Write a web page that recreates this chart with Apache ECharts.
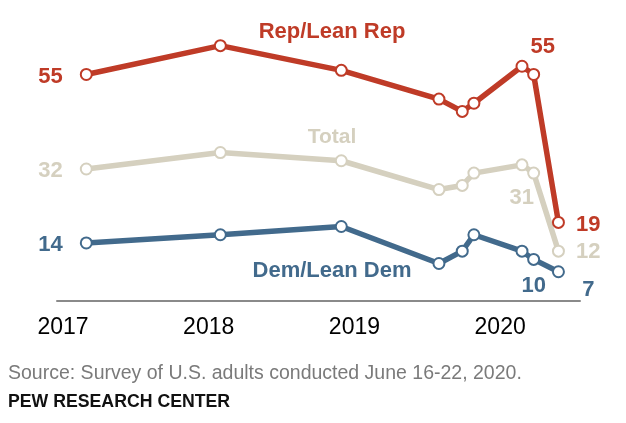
<!DOCTYPE html>
<html><head><meta charset="utf-8">
<script src="https://cdn.jsdelivr.net/npm/echarts@6/dist/echarts.min.js"></script>
<style>html,body{margin:0;padding:0;background:#fff}#c{width:626px;height:423px}</style>
</head><body><div id="c"></div>
<script>
// Survey dates as fractional years
const surveyDates = [2017.16, 2018.08, 2018.91, 2019.58, 2019.74, 2019.82, 2020.15, 2020.23, 2020.40];
const yearTicks = [2017, 2018, 2019, 2020];
const repValues = [55, 62, 56, 49, 46, 48, 57, 55, 19];
const totalValues = [32, 36, 34, 27, 28, 31, 33, 31, 12];
const demValues = [14, 16, 18, 9, 12, 16, 12, 10, 7];
const seriesNames = ['Rep/Lean Rep', 'Total', 'Dem/Lean Dem'];
const sourceNote = 'Source: Survey of U.S. adults conducted June 16-22, 2020.';
const footerNote = 'PEW RESEARCH CENTER';

const RED = '#bf3b27', BEIGE = '#d5d0bf', BLUE = '#426a8c';
const FONT = '"Liberation Sans", Arial, sans-serif';

function build(values, color, labelMap) {
  return surveyDates.map((d, i) => {
    const item = { value: [d, values[i]] };
    const l = labelMap[i];
    if (l) {
      item.label = Object.assign({
        show: true, color: color, fontSize: 22, fontWeight: 'bold', fontFamily: FONT,
        formatter: p => String(p.value[1])
      }, l);
    }
    return item;
  });
}

function lineSeries(name, values, color, labelMap) {
  return {
    name: name, type: 'line', data: build(values, color, labelMap),
    symbol: 'circle', symbolSize: 11,
    itemStyle: { color: '#fff', borderColor: color, borderWidth: 2 },
    lineStyle: { color: color, width: 5.5 },
    label: { show: false },
    emphasis: { disabled: true },
    z: 2
  };
}

const chart = echarts.init(document.getElementById('c'), null, { renderer: 'canvas' });
chart.setOption({
  animation: false,
  backgroundColor: '#fff',
  grid: { left: 57, right: 46, top: 12.8, bottom: 122.5 },
  xAxis: {
    type: 'value', min: 2016.959, max: 2020.548,
    axisLine: { show: true, lineStyle: { color: '#8a8a8a', width: 2 } },
    axisTick: { show: false },
    splitLine: { show: false },
    axisLabel: {
      customValues: yearTicks, formatter: v => String(v),
      fontSize: 23, color: '#000', margin: 16, fontFamily: FONT
    }
  },
  yAxis: { type: 'value', min: 0, max: 70, show: false, splitLine: { show: false } },
  series: [
    lineSeries(seriesNames[2], demValues, BLUE, {
      0: { position: 'left', distance: 17, offset: [0, 2] },
      7: { position: 'inside', offset: [0, 27] },
      8: { position: 'inside', offset: [30, 18] }
    }),
    lineSeries(seriesNames[1], totalValues, BEIGE, {
      0: { position: 'left', distance: 17, offset: [0, 2] },
      7: { position: 'inside', offset: [-12, 25] },
      8: { position: 'right', distance: 11, offset: [0, 1] }
    }),
    lineSeries(seriesNames[0], repValues, RED, {
      0: { position: 'left', distance: 17, offset: [0, 2] },
      7: { position: 'inside', offset: [9, -28] },
      8: { position: 'right', distance: 11, offset: [0, 3] }
    })
  ],
  graphic: [
    { type: 'text', x: 332, y: 32, style: { text: seriesNames[0], fill: RED, fontSize: 22, fontWeight: 'bold', fontFamily: FONT, align: 'center', verticalAlign: 'middle' } },
    { type: 'text', x: 332, y: 137, style: { text: seriesNames[1], fill: BEIGE, fontSize: 21, fontWeight: 'bold', fontFamily: FONT, align: 'center', verticalAlign: 'middle' } },
    { type: 'text', x: 332, y: 271, style: { text: seriesNames[2], fill: BLUE, fontSize: 22, fontWeight: 'bold', fontFamily: FONT, align: 'center', verticalAlign: 'middle' } },
    { type: 'text', x: 8, y: 374, style: { text: sourceNote, fill: '#7a7a7a', fontSize: 19.5, fontFamily: FONT, align: 'left', verticalAlign: 'middle' } },
    { type: 'text', x: 8, y: 402, style: { text: footerNote, fill: '#111', fontSize: 17.7, fontWeight: 'bold', fontFamily: FONT, align: 'left', verticalAlign: 'middle' } }
  ]
});
</script>
</body></html>
